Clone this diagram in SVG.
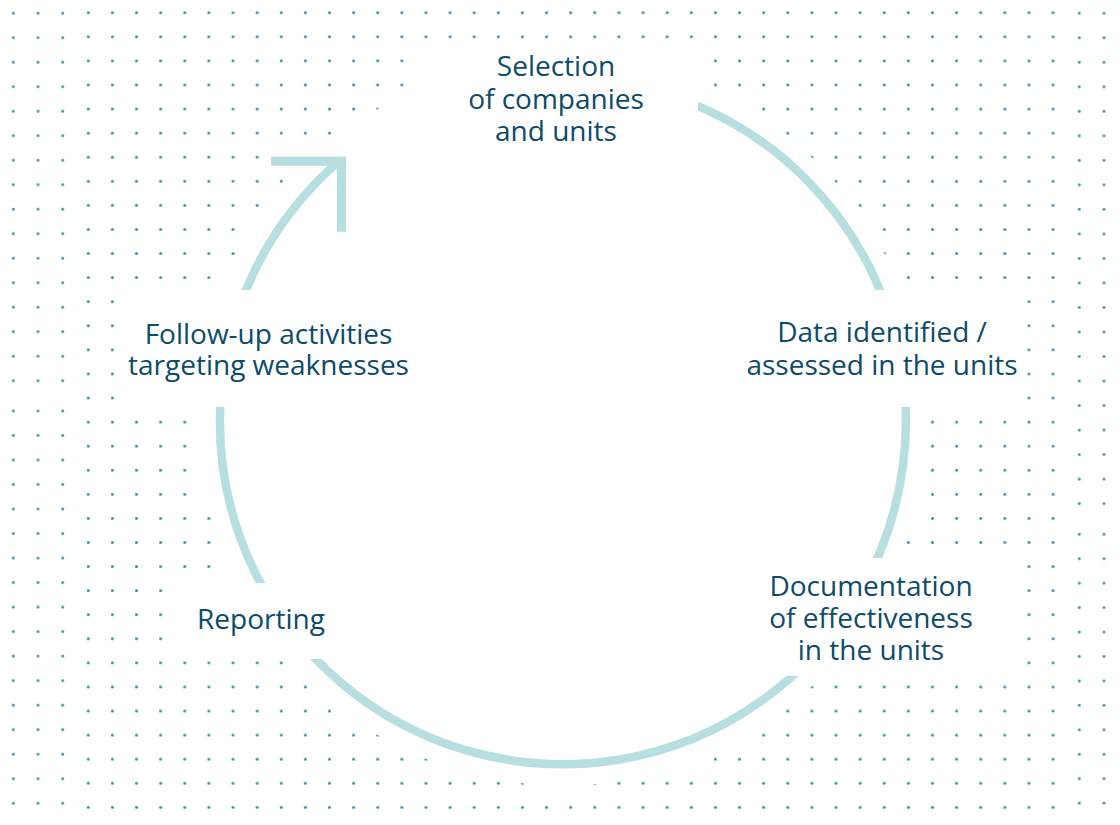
<svg xmlns="http://www.w3.org/2000/svg" width="1120" height="825" viewBox="0 0 1120 825">
  <style>
    .lbl { font-family: "Open Sans", "Noto Sans", "Liberation Sans", sans-serif; font-size: 28px; fill: #0b4b6b; text-anchor: middle; }
    .cover { fill: #ffffff; }
    .ring { fill: none; stroke: #b7dfe0; stroke-width: 8.5; }
    .dot { fill: #3a92a7; }
  </style>
  <defs>
    <pattern id="pMid" patternUnits="userSpaceOnUse" x="76.24" y="0.66" width="24.12" height="24.08">
      <circle class="dot" cx="12.06" cy="12.04" r="1.55"/>
    </pattern>
    <pattern id="pL1" patternUnits="userSpaceOnUse" x="0.95" y="1.05" width="24.7" height="24.5">
      <circle class="dot" cx="12.35" cy="12.25" r="1.45"/>
    </pattern>
    <pattern id="pL2" patternUnits="userSpaceOnUse" x="0.95" y="398.74" width="24.7" height="24.52">
      <circle class="dot" cx="12.35" cy="12.26" r="1.45"/>
    </pattern>
    <pattern id="pR1" patternUnits="userSpaceOnUse" x="1066.95" y="1.04" width="24.7" height="24.52">
      <circle class="dot" cx="12.35" cy="12.26" r="1.45"/>
    </pattern>
    <pattern id="pR2" patternUnits="userSpaceOnUse" x="1066.95" y="522.08" width="24.7" height="24.45">
      <circle class="dot" cx="12.35" cy="12.22" r="1.45"/>
    </pattern>
  </defs>

  <rect width="1120" height="825" fill="#ffffff"/>

  <g id="dots">
    <rect x="0" y="0" width="75" height="394" fill="url(#pL1)"/>
    <rect x="0" y="396" width="75" height="429" fill="url(#pL2)"/>
    <rect x="76" y="0" width="990" height="825" fill="url(#pMid)"/>
    <rect x="1066" y="0" width="54" height="518" fill="url(#pR1)"/>
    <rect x="1066" y="520" width="54" height="305" fill="url(#pR2)"/>
  </g>

  <g id="backdrop">
    <circle class="cover" cx="562.5" cy="422" r="363.5"/>
    <rect class="cover" x="268" y="145" width="82" height="25"/>
  </g>

  <g id="connectors">
    <path class="ring" d="M 690 102.6 A 343 343 0 1 1 341 159.6"/>
    <polyline points="271,161.2 341.5,161.2 341.5,231.7" fill="none" stroke="#b7dfe0" stroke-width="9" stroke-linejoin="miter" stroke-linecap="butt"/>
  </g>

  <g id="node-selection">
    <rect class="cover" x="414" y="48" width="284" height="112"/>
    <text class="lbl" x="556" y="76">Selection</text>
    <text class="lbl" x="556" y="108.5">of companies</text>
    <text class="lbl" x="556" y="141">and units</text>
  </g>

  <g id="node-data">
    <rect class="cover" x="740" y="290" width="277" height="117"/>
    <text class="lbl" x="882" y="341.5">Data identified /</text>
    <text class="lbl" x="882" y="374.5">assessed in the units</text>
  </g>

  <g id="node-documentation">
    <rect class="cover" x="740" y="558" width="277" height="118"/>
    <text class="lbl" x="871" y="596">Documentation</text>
    <text class="lbl" x="871" y="628">of effectiveness</text>
    <text class="lbl" x="871" y="660">in the units</text>
  </g>

  <g id="node-reporting">
    <rect class="cover" x="172" y="583" width="168" height="76"/>
    <text class="lbl" x="261" y="628.5">Reporting</text>
  </g>

  <g id="node-followup">
    <rect class="cover" x="124" y="290" width="300" height="117"/>
    <text class="lbl" x="268.5" y="343.5">Follow-up activities</text>
    <text class="lbl" x="268.5" y="375">targeting weaknesses</text>
  </g>
</svg>
